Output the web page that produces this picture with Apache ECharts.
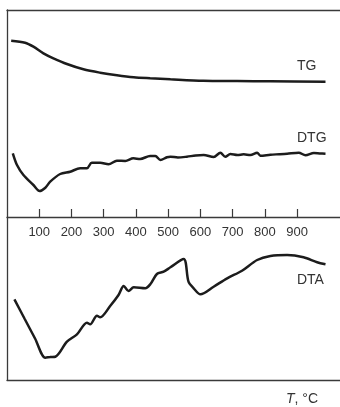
<!DOCTYPE html>
<html>
<head>
<meta charset="utf-8">
<script src="https://cdn.jsdelivr.net/npm/echarts@6/dist/echarts.min.js"></script>
<style>html,body{margin:0;padding:0;background:#fff}#c{width:340px;height:407px}</style>
</head>
<body>
<div id="c"></div>
<script>
// Temperature tick labels (°C)
const tickValues = [100, 200, 300, 400, 500, 600, 700, 800, 900];

// TG curve: [T (°C), signal (arb. units)]
const tgData = [
  [13, 176.3], [56, 174.3], [82, 170.3], [113, 163.7], [144, 158.7], [186, 153],
  [237, 147.7], [289, 144.3], [341, 141.7], [393, 139.7], [444, 138.7], [507, 137.7],
  [609, 136.3], [714, 136], [817, 135.7], [988, 135.3]
];

// DTG curve: [T (°C), signal (arb. units)]
const dtgData = [
  [18, 63.7], [31, 52], [51, 42], [82, 32], [101, 26], [119, 29.3], [134, 35.3],
  [165, 43], [196, 45.3], [227, 48.7], [248, 48.7], [263, 54.3], [289, 54.3],
  [315, 52.7], [341, 56.3], [367, 56], [392, 58.7], [413, 58], [444, 61], [460, 61],
  [476, 57], [496, 59.7], [507, 60.3], [530, 59.5], [558, 60.3], [585, 61.5], [610, 62],
  [641, 60], [662, 64.3], [677, 60.3], [693, 63], [715, 62], [734, 62.7], [755, 62],
  [776, 64.3], [786, 61.3], [817, 62.3], [845, 62.8], [869, 63.3], [905, 64.3],
  [926, 61.7], [952, 64], [970, 63.6], [988, 63.3]
];

// DTA curve: [T (°C), signal (arb. units)]
const dtaData = [
  [23, 80.7], [55, 61], [87, 41.5], [119, 22.3], [135, 23], [150, 23.3], [186, 38.3], [217, 45.7],
  [248, 57.3], [258, 55.7], [279, 64.3], [289, 62.7], [320, 74], [346, 85],
  [362, 94], [377, 89], [393, 92.7], [429, 91.7], [445, 96], [465, 106],
  [486, 108.3], [507, 112.7], [548, 121], [563, 98.3], [579, 91.7], [600, 85.7],
  [641, 93.3], [683, 101.7], [729, 109.3], [776, 120], [817, 124], [869, 125],
  [920, 122.7], [962, 117.7], [988, 115.7]
];

const FONT = 'Liberation Sans, Arial, sans-serif';
const TXT = '#333';
const AX = '#3a3a3a';
const LINE = '#1c1c1c';

const chart = echarts.init(document.getElementById('c'), null, {renderer: 'canvas'});
const lineSeries = (data, xi, yi) => ({
  type: 'line', data: data, xAxisIndex: xi, yAxisIndex: yi,
  showSymbol: false, smooth: 0.3, animation: false,
  lineStyle: {color: LINE, width: 2.5}
});

chart.setOption({
  animation: false,
  grid: [
    {left: 7, right: 0, top: 10, bottom: 190},
    {left: 7, right: 0, top: 217, bottom: 27}
  ],
  xAxis: [
    {
      gridIndex: 0, type: 'value', min: 0, max: 1033, position: 'bottom',
      axisLine: {show: true, onZero: false, lineStyle: {color: AX, width: 1.3}},
      axisTick: {show: true, inside: true, length: 8, customValues: tickValues,
                 lineStyle: {color: AX, width: 1.2}},
      axisLabel: {show: true, customValues: tickValues, margin: 9,
                  color: TXT, fontSize: 13, fontFamily: FONT},
      splitLine: {show: false}
    },
    {
      gridIndex: 0, type: 'value', min: 0, max: 1033, position: 'top',
      axisLine: {show: true, onZero: false, lineStyle: {color: AX, width: 1.3}},
      axisTick: {show: false}, axisLabel: {show: false}, splitLine: {show: false}
    },
    {
      gridIndex: 1, type: 'value', min: 0, max: 1033, position: 'bottom',
      axisLine: {show: true, onZero: false, lineStyle: {color: AX, width: 1.3}},
      axisTick: {show: false}, axisLabel: {show: false}, splitLine: {show: false}
    }
  ],
  yAxis: [
    {
      gridIndex: 0, type: 'value', min: 0, max: 207,
      axisLine: {show: true, onZero: false, lineStyle: {color: AX, width: 1.3}},
      axisTick: {show: false}, axisLabel: {show: false}, splitLine: {show: false}
    },
    {
      gridIndex: 1, type: 'value', min: 0, max: 163,
      axisLine: {show: true, onZero: false, lineStyle: {color: AX, width: 1.3}},
      axisTick: {show: false}, axisLabel: {show: false}, splitLine: {show: false}
    }
  ],
  graphic: [
    {type: 'text', left: 297, top: 59, style: {text: 'TG', fontSize: 14, fill: TXT, fontFamily: FONT}},
    {type: 'text', left: 297, top: 131, style: {text: 'DTG', fontSize: 14, fill: TXT, fontFamily: FONT}},
    {type: 'text', left: 297, top: 273, style: {text: 'DTA', fontSize: 14, fill: TXT, fontFamily: FONT}},
    {type: 'text', left: 286, top: 392, style: {
      text: '{i|T}{n|, °C}', fontFamily: FONT, fontSize: 14, fill: TXT,
      rich: {
        i: {fontStyle: 'italic', fontWeight: 'normal', fontSize: 14, fill: TXT, fontFamily: FONT},
        n: {fontWeight: 'normal', fontSize: 14, fill: TXT, fontFamily: FONT}
      }
    }}
  ],
  series: [
    lineSeries(tgData, 0, 0),
    lineSeries(dtgData, 0, 0),
    lineSeries(dtaData, 2, 1)
  ]
});
</script>
</body>
</html>
